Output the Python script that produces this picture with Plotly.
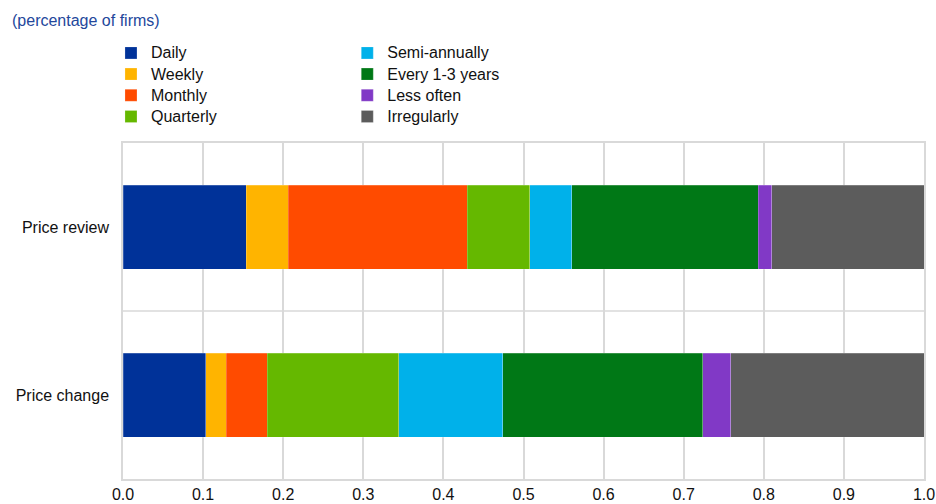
import plotly.graph_objects as go

categories = ["Price review", "Price change"]
series_names = ["Daily", "Weekly", "Monthly", "Quarterly",
                "Semi-annually", "Every 1-3 years", "Less often", "Irregularly"]
price_review = [0.154, 0.052, 0.224, 0.078, 0.052, 0.233, 0.017, 0.190]
price_change = [0.103, 0.026, 0.051, 0.164, 0.130, 0.250, 0.035, 0.241]
colors = ["#003299", "#FFB400", "#FF4B00", "#65B800",
          "#00B1EA", "#007816", "#8139C6", "#5C5C5C"]
x_ticks = [0.0, 0.1, 0.2, 0.3, 0.4, 0.5, 0.6, 0.7, 0.8, 0.9, 1.0]

fig = go.Figure()
for i, name in enumerate(series_names):
    fig.add_trace(go.Bar(
        y=categories,
        x=[price_review[i], price_change[i]],
        name=f'<span style="font-size:16px">{name}</span>',
        orientation="h",
        marker=dict(color=colors[i], line=dict(width=0.6, color="rgba(255,255,255,0.35)")),
        legend="legend" if i < 4 else "legend2",
    ))

font_family = "Liberation Sans, Arial, sans-serif"
fig.update_layout(
    width=936, height=504,
    barmode="stack",
    bargap=0.5,
    paper_bgcolor="white",
    plot_bgcolor="white",
    margin=dict(l=123, r=12, t=143, b=25, autoexpand=False),
    font=dict(family=font_family, size=16, color="#222222"),
    legend=dict(x=-0.015, y=0.926, yref="container", xanchor="left", yanchor="top",
                orientation="v", font=dict(size=14, color="#111111"), itemclick=False,
                traceorder="normal", tracegroupgap=0, bgcolor="rgba(0,0,0,0)"),
    legend2=dict(x=0.280, y=0.926, yref="container", xanchor="left", yanchor="top",
                 orientation="v", font=dict(size=14, color="#111111"), itemclick=False,
                 traceorder="normal", tracegroupgap=0, bgcolor="rgba(0,0,0,0)"),
    annotations=[dict(text="(percentage of firms)", xref="paper", yref="paper",
                      x=-0.1415, xanchor="left", y=1.366, yanchor="middle",
                      showarrow=False,
                      font=dict(size=16, color="#23479b", family=font_family))],
    shapes=[dict(type="line", xref="paper", x0=0, x1=1, yref="y", y0=0.5, y1=0.5,
                 line=dict(color="#d9d9d9", width=1.5), layer="below")],
)
fig.update_xaxes(range=[0, 1.0], tickvals=x_ticks,
                 ticktext=[f"{v:.1f}" for v in x_ticks],
                 showgrid=True, gridcolor="#d9d9d9", gridwidth=1.5,
                 showline=True, linecolor="#d9d9d9", linewidth=1.5, mirror=True,
                 zeroline=False, automargin=False,
                 tickfont=dict(size=16, color="#111111"))
fig.update_yaxes(categoryorder="array", categoryarray=categories, autorange="reversed",
                 showgrid=False, showline=True, linecolor="#d9d9d9", linewidth=1.5,
                 mirror=True, ticklabelstandoff=9, automargin=False,
                 tickfont=dict(size=16, color="#111111"))

fig.write_html("out.html", config={"displayModeBar": False},
               post_script="document.body.style.margin='0';")
